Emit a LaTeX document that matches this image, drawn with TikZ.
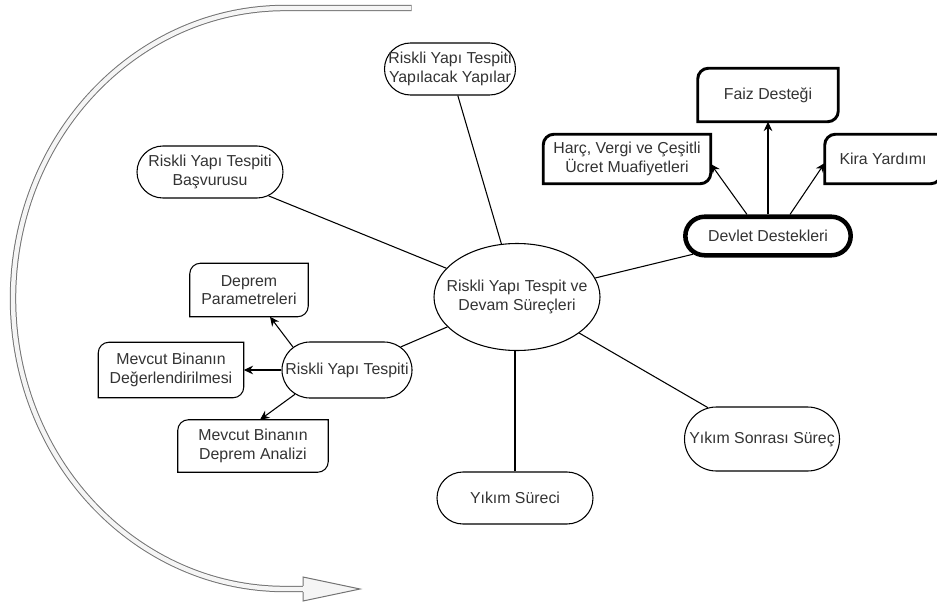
\documentclass[tikz,border=0pt]{standalone}
\usepackage{fontspec}
\setmainfont{Liberation Sans}
\usetikzlibrary{shapes.geometric,shapes.misc,arrows.meta,calc}
\newcommand{\koseli}[2][line width=.8pt]{%
  \draw[#1] ([yshift=-8pt]#2.north west) arc[start angle=180,end angle=90,radius=8pt]
    -- (#2.north east) -- ([yshift=8pt]#2.south east)
    arc[start angle=0,end angle=-90,radius=8pt] -- (#2.south west) -- cycle;}

\begin{document}
\begin{tikzpicture}[x=0.75pt,y=0.75pt]
\tikzset{yazi/.style={font=\fontsize{11.9}{13.8}\selectfont, text=black!80, align=center},
  kapsul/.style={draw, rounded rectangle, line width=.8pt, inner sep=0pt},
  kutu/.style={yazi, rectangle, inner sep=0pt},
  ok/.style={-{Stealth[length=7pt,width=6.5pt]}, line width=.8pt},
  every label/.style={yazi}}
\useasboundingbox (0,0) rectangle (937,-603);
\clip (0,0) rectangle (937,-603);
\draw[black!55, line width=4.8pt] (411.6,-8) -- (285,-8)
  arc[start angle=90, end angle=270, x radius=204pt, y radius=217.875pt] -- (303,-589);
\draw[gray!8, line width=3.3pt] (411,-8) -- (285,-8)
  arc[start angle=90, end angle=270, x radius=204pt, y radius=217.875pt] -- (303,-589);
\fill[gray!8] (303,-577) -- (360,-589) -- (303,-601) -- cycle;
\draw[black!55, line width=.75pt] (303,-585.8) -- (303,-577) -- (360,-589) -- (303,-601) -- (303,-592.2);
\node[ellipse, draw, line width=.8pt, inner sep=0pt, minimum width=124.5pt, minimum height=80.25pt,
  label=center:{Riskli Yapı Tespit ve\\Devam Süreçleri}] (S0) at (517,-297) {};
\node[kapsul, minimum width=98.25pt, minimum height=39pt,
  label=center:{Riskli Yapı Tespiti\\Yapılacak Yapılar}] (S1) at (450,-69) {};
\node[kapsul, minimum width=109.5pt, minimum height=39pt,
  label=center:{Riskli Yapı Tespiti\\Başvurusu}] (S2) at (210,-172) {};
\node[kapsul, line width=3.4pt, minimum width=124pt, minimum height=28.9pt,
  label=center:{Devlet Destekleri}] (S3) at (768,-236) {};
\node[kapsul, minimum width=116.25pt, minimum height=48pt,
  label=center:{Yıkım Sonrası Süreç}] (S4) at (762,-439) {};
\node[kapsul, minimum width=117pt, minimum height=39pt,
  label=center:{Yıkım Süreci}] (S5) at (515,-498) {};
\node[kapsul, minimum width=97.5pt, minimum height=42pt,
  label=center:{Riskli Yapı Tespiti}] (T0) at (347,-370) {};
\node[kutu, minimum width=88.5pt, minimum height=39.75pt] (T1) at (249,-290) {Deprem\\Parametreleri};
\node[kutu, minimum width=108.75pt, minimum height=41.25pt] (T2) at (171,-370) {Mevcut Binanın\\Değerlendirilmesi};
\node[kutu, minimum width=112.5pt, minimum height=39pt] (T3) at (253,-446) {Mevcut Binanın\\Deprem Analizi};
\node[kutu, minimum width=105pt, minimum height=39.75pt] (D1) at (768,-95) {Faiz Desteği};
\node[kutu, minimum width=125.25pt, minimum height=36.75pt] (D2) at (627,-159) {Harç, Vergi ve Çeşitli\\Ücret Muafiyetleri};
\node[kutu, minimum width=87pt, minimum height=36.75pt] (D3) at (883,-159) {Kira Yardımı};
\koseli{T1}
\koseli{T2}
\koseli{T3}
\koseli[line width=2.2pt]{D1}
\koseli[line width=2.2pt]{D2}
\koseli[line width=2.2pt]{D3}
\draw[line width=.8pt] (S0) -- (S1);
\draw[line width=.8pt] (S0) -- (S2);
\draw[line width=.8pt] (S0) -- (S3);
\draw[line width=.8pt] (S0) -- (S4);
\draw[line width=.8pt] (S5.north) -- (S5.north |- S0.south);
\draw[line width=.8pt] (S0) -- (T0);
\draw[ok] (S3) -- (D1);
\draw[ok] ($(S3.north)+(-21,0)$) -- ($(D2.east)+(0,-5)$);
\draw[ok] ($(S3.north)+(22,0)$) -- ($(D3.west)+(0,-4)$);
\draw[ok] (T0.157) -- ($(T1.south)+(21,0)$);
\draw[ok] (T0) -- (T2);
\draw[ok] (T0.205) -- ($(T3.north)+(7,0)$);
\end{tikzpicture}
\end{document}
